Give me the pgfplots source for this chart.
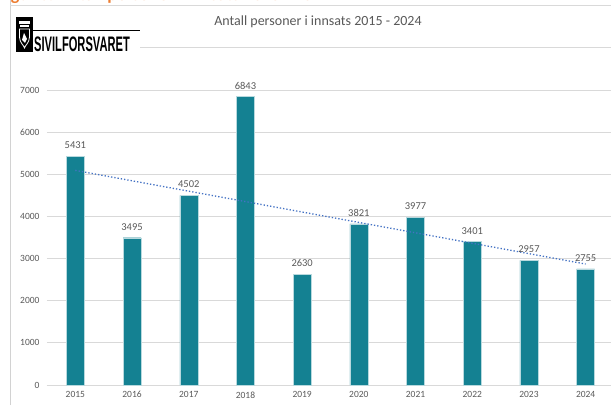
\documentclass[border=0pt]{standalone}
\usepackage{pgfplots}
\pgfplotsset{compat=1.18}
\usepackage{graphicx}
\usepackage{fontspec}
\setmainfont{Carlito}
\newfontfamily\logofont{Liberation Sans}
\definecolor{barc}{RGB}{20,129,146}
\definecolor{txt}{RGB}{89,89,89}
\definecolor{gridc}{RGB}{217,217,217}
\definecolor{trend}{RGB}{68,114,196}
\definecolor{orng}{RGB}{237,125,49}
\begin{document}
\begin{tikzpicture}[x=1pt,y=1pt]
\useasboundingbox (0,0) rectangle (611,405);
\fill[white] (0,0) rectangle (611,405);
% frame lines
\draw[gray!35, line width=1pt] (10,0) -- (10,405);
\draw[gray!30, line width=0.8pt] (10,400) -- (611,400);
\draw[gray!30, line width=0.8pt] (140,358) -- (611,358);
% clipped orange heading
\node[anchor=base west, text=orng, inner sep=0, font=\bfseries\fontsize{18}{18}\selectfont] at (-2,404.5) {Figur 3: Antall personer i innsats 2015 - 2024};
% logo
\fill[black] (16,353) rectangle (33,388);
\fill[white] (19,381) rectangle (30,384);
\fill[white] (20,378) rectangle (29,380);
\draw[white, line width=0.8pt] (19.5,376) -- (29.5,376) -- (29.5,368) .. controls (29.5,362) and (24.5,359) .. (24.5,357) .. controls (24.5,359) and (19.5,362) .. (19.5,368) -- cycle;
\fill[white] (22,365) -- (24,372) -- (27,366) -- (25,362) -- cycle;
\draw[black, line width=1pt] (33,374) -- (140,374);
\node[anchor=south west, inner sep=0] at (34,353.5) {\scalebox{0.53}[1]{\logofont\bfseries\fontsize{21}{21}\selectfont SIVILFORSVARET}};
% title
\node[text=txt, font=\fontsize{14}{14}\selectfont] at (318,383) {Antall personer i innsats 2015 - 2024};
\begin{axis}[
  at={(47pt,20pt)}, anchor=south west,
  scale only axis, width=567pt, height=295pt,
  xmin=-0.5, xmax=9.5, ymin=0, ymax=7000,
  clip=false,
  axis line style={draw=none},
  ymajorgrids, grid style={gridc, line width=0.8pt},
  xtick={0,...,9},
  xticklabels={2015,2016,2017,2018,2019,2020,2021,2022,2023,2024},
  ytick={0,1000,...,7000},
  major tick length=0,
  yticklabel style={text=txt, font=\fontsize{9.5}{10}\selectfont, xshift=-4pt},
  xticklabel style={text=txt, font=\fontsize{9.5}{10}\selectfont, yshift=-3pt},
  /pgf/number format/assume math mode=true,
  /pgf/number format/1000 sep={},
]
\draw[gridc, line width=0.8pt] (axis cs:-0.5,0) -- (axis cs:9.5,0);
\addplot[ybar, bar width=18pt, fill=barc, draw=white!70!barc, line width=0.4pt,
  nodes near coords, every node near coord/.style={text=txt, font=\fontsize{10.5}{10.5}\selectfont, yshift=4pt},
  nodes near coords style={/pgf/number format/1000 sep={}, /pgf/number format/assume math mode=true}]
  coordinates {(0,5431) (1,3495) (2,4502) (3,6843) (4,2630) (5,3821) (6,3977) (7,3401) (8,2957) (9,2755)};
\addplot[trend, line width=1.3pt, dotted, no marks] coordinates {(0,5093) (9,2870)};
\end{axis}
\end{tikzpicture}
\end{document}
